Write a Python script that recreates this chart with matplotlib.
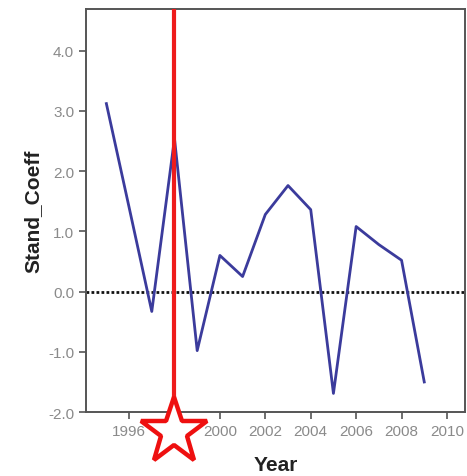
import matplotlib
matplotlib.use("Agg")
import matplotlib.pyplot as plt
import matplotlib.transforms as mtransforms

# Yearly standardized coefficient series
years = [1995, 1996, 1997, 1998, 1999, 2000, 2001, 2002, 2003, 2004,
         2005, 2006, 2007, 2008, 2009]
stand_coeff = [3.12, 1.40, -0.33, 2.54, -0.98, 0.60, 0.25, 1.28, 1.76, 1.36,
               -1.69, 1.08, 0.78, 0.52, -1.50]

x_ticks = [1996, 1998, 2000, 2002, 2004, 2006, 2008, 2010]
y_ticks = [-2.0, -1.0, 0.0, 1.0, 2.0, 3.0, 4.0]
highlight_year = 1998

plt.rcParams['font.family'] = ['Liberation Sans', 'DejaVu Sans']

fig = plt.figure(figsize=(4.67, 4.77), dpi=100)
ax = fig.add_axes([0.184, 0.134, 0.812, 0.845])

ax.plot(years, stand_coeff, color='#3b3b9c', lw=2.0, zorder=3)
ax.axhline(0, color='#111111', lw=2.0, ls=(0, (1, 0.8)), zorder=2)
ax.axvline(highlight_year, color='#ee1c1c', lw=3.0, zorder=4)

ax.set_xlim(1994.1, 2010.8)
ax.set_ylim(-2.0, 4.69)
ax.set_xticks(x_ticks)
ax.set_yticks(y_ticks)
ax.set_yticklabels([f"{v:.1f}" for v in y_ticks])

for s in ax.spines.values():
    s.set_color('#555555')
    s.set_linewidth(1.4)
ax.tick_params(axis='both', colors='#555555', width=1.2, length=5,
               labelsize=11, labelcolor='#8a8a8a', direction='out')

ax.set_xlabel('Year', fontsize=15, fontweight='bold', color='#222222', labelpad=12)
ax.set_ylabel('Stand_Coeff', fontsize=15, fontweight='bold', color='#222222', labelpad=4)

# Star marker under the highlighted year
trans = mtransforms.blended_transform_factory(ax.transData, fig.transFigure)
ax.plot([highlight_year], [1 - 433 / 477], marker='*', markersize=50,
        markerfacecolor='white', markeredgecolor='#ee1010', markeredgewidth=3.2,
        transform=trans, clip_on=False, zorder=10)

fig.savefig('out.png', dpi=100)
